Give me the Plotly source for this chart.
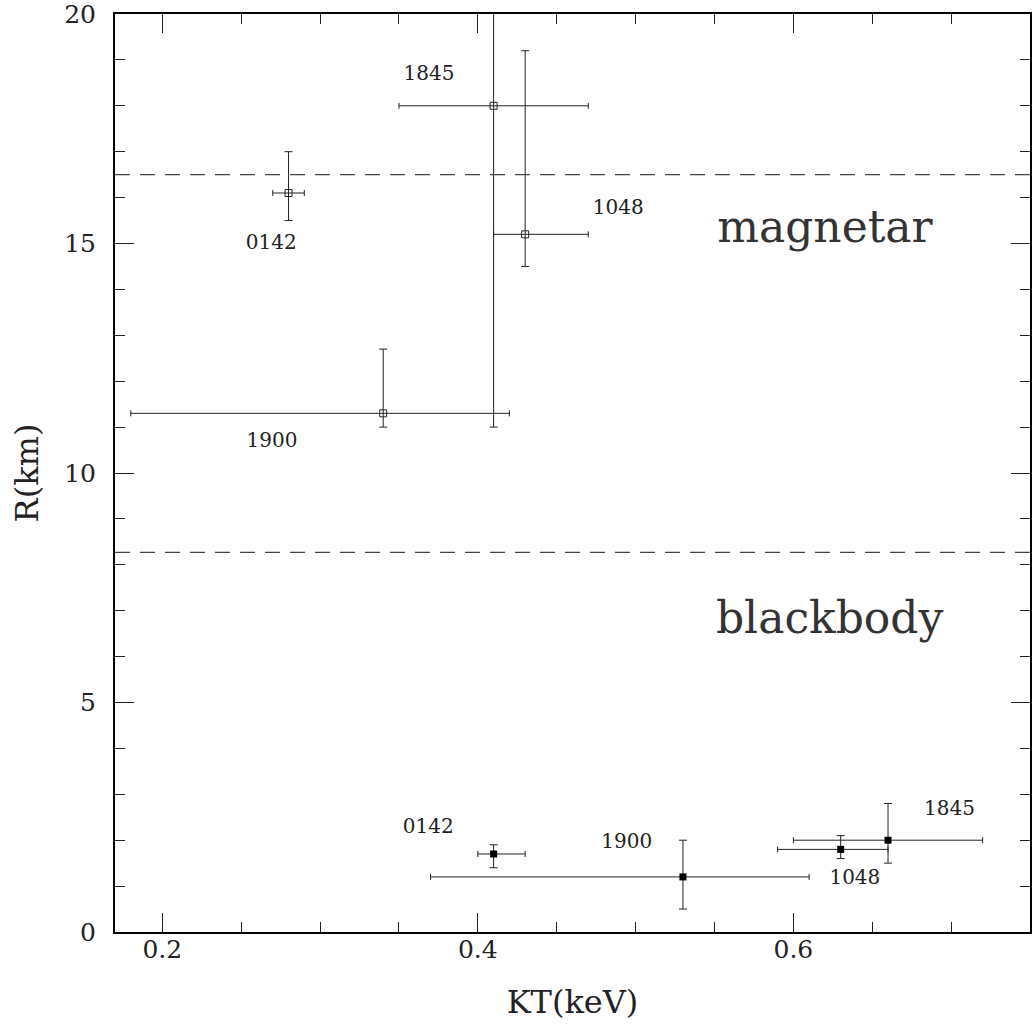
import plotly.graph_objects as go

# ---- data ----
mag_names = ["0142", "1845", "1048", "1900"]
mag_kT = [0.28, 0.41, 0.43, 0.34]
mag_kT_lo = [0.27, 0.35, 0.41, 0.18]
mag_kT_hi = [0.29, 0.47, 0.47, 0.42]
mag_R = [16.1, 18.0, 15.2, 11.3]
mag_R_lo = [15.5, 11.0, 14.5, 11.0]
mag_R_hi = [17.0, 25.0, 19.2, 12.7]

bb_names = ["0142", "1900", "1048", "1845"]
bb_kT = [0.41, 0.53, 0.63, 0.66]
bb_kT_lo = [0.40, 0.37, 0.59, 0.60]
bb_kT_hi = [0.43, 0.61, 0.66, 0.72]
bb_R = [1.7, 1.2, 1.8, 2.0]
bb_R_lo = [1.4, 0.5, 1.6, 1.5]
bb_R_hi = [1.9, 2.0, 2.1, 2.8]

# label anchor positions (data coords)
mag_lab_x = [0.269, 0.369, 0.489, 0.2695]
mag_lab_y = [15.0, 18.67, 15.75, 10.67]
bb_lab_x = [0.3686, 0.4944, 0.639, 0.699]
bb_lab_y = [2.26, 1.95, 1.16, 2.66]

region_names = ["magnetar", "blackbody"]
region_x = [0.620, 0.623]
region_y = [15.27, 6.76]
boundaries = [16.5, 8.27]

x_ticks = [0.2, 0.4, 0.6]
y_ticks = [0, 5, 10, 15, 20]

FONT = "DejaVu Serif"
INK = "#222"


def errs(v, lo, hi):
    return [h - c for c, h in zip(v, hi)], [c - l for c, l in zip(v, lo)]


fig = go.Figure()

mxp, mxm = errs(mag_kT, mag_kT_lo, mag_kT_hi)
myp, mym = errs(mag_R, mag_R_lo, mag_R_hi)
fig.add_trace(go.Scatter(
    x=mag_kT, y=mag_R, mode="markers",
    marker=dict(symbol="square-open", size=7, color=INK, line=dict(width=1, color=INK)),
    error_x=dict(type="data", symmetric=False, array=mxp, arrayminus=mxm,
                 color=INK, thickness=1, width=3),
    error_y=dict(type="data", symmetric=False, array=myp, arrayminus=mym,
                 color=INK, thickness=1, width=4),
    showlegend=False, cliponaxis=True,
))

bxp, bxm = errs(bb_kT, bb_kT_lo, bb_kT_hi)
byp, bym = errs(bb_R, bb_R_lo, bb_R_hi)
fig.add_trace(go.Scatter(
    x=bb_kT, y=bb_R, mode="markers",
    marker=dict(symbol="square", size=7, color="black"),
    error_x=dict(type="data", symmetric=False, array=bxp, arrayminus=bxm,
                 color=INK, thickness=1, width=3),
    error_y=dict(type="data", symmetric=False, array=byp, arrayminus=bym,
                 color=INK, thickness=1, width=4),
    showlegend=False,
))

fig.add_trace(go.Scatter(
    x=mag_lab_x + bb_lab_x, y=mag_lab_y + bb_lab_y, mode="text",
    text=mag_names + bb_names, textposition="middle center",
    textfont=dict(family=FONT, size=20, color=INK), showlegend=False,
))

fig.add_trace(go.Scatter(
    x=region_x, y=region_y, mode="text", text=region_names,
    textposition="middle center",
    textfont=dict(family=FONT, size=44, color="#333"), showlegend=False,
))

for b in boundaries:
    fig.add_hline(y=b, line=dict(color="#444", width=1.2, dash="15px,10px"))

axis_common = dict(
    showgrid=False, zeroline=False, showline=True, linecolor="black", linewidth=2,
    mirror="allticks", ticks="inside", ticklen=19, tickwidth=1.2, tickcolor=INK,
    tickfont=dict(family=FONT, size=25, color=INK),
    ticklabeloverflow="allow", automargin=False,
)

fig.update_xaxes(
    range=[0.17, 0.75], tickvals=x_ticks, ticktext=[f"{v:.1f}" for v in x_ticks],
    minor=dict(dtick=0.05, tick0=0.2, ticks="inside", ticklen=10, tickwidth=1.2, tickcolor=INK),
    title=dict(text="KT(keV)", font=dict(family=FONT, size=32, color=INK), standoff=28),
    ticklabelstandoff=-6,
    **axis_common,
)
fig.update_yaxes(
    range=[0, 20], tickvals=y_ticks, ticktext=[str(v) for v in y_ticks],
    minor=dict(dtick=1, tick0=0, ticks="inside", ticklen=10, tickwidth=1.2, tickcolor=INK),
    title=dict(text="R(km)", font=dict(family=FONT, size=32, color=INK), standoff=16),
    ticklabelstandoff=12,
    **axis_common,
)

# plot area lands at x 115..1030, y 14..932 in the window
fig.update_layout(
    width=1034, height=1028,
    margin=dict(l=115, r=4, t=14, b=96, autoexpand=False),
    plot_bgcolor="white", paper_bgcolor="white",
)

# remove the default 8px page margin so the figure fills the window exactly
fig.write_html(
    "out.html",
    config={"displayModeBar": False},
    post_script="document.body.style.margin='0';",
)
